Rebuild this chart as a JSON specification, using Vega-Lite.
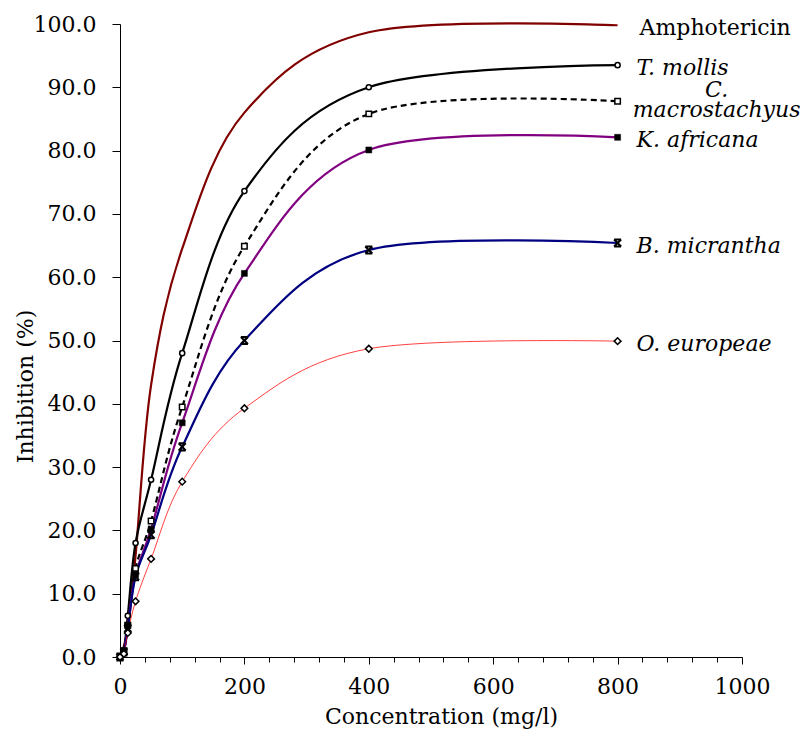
{
  "$schema": "https://vega.github.io/schema/vega-lite/v6.json",
  "autosize": "none",
  "width": 622,
  "height": 633,
  "padding": {"left": 120, "top": 24, "right": 62, "bottom": 74},
  "background": "white",
  "config": {
    "view": {"stroke": null},
    "font": "DejaVu Serif",
    "axis": {"grid": false, "domainColor": "black", "tickColor": "black", "labelColor": "black", "titleColor": "black", "titleFontWeight": "normal", "labelFont": "DejaVu Serif", "titleFont": "DejaVu Serif"}
  },
  "data": {
    "values": [
      {"series": "Amphotericin", "conc": 0, "inhib": 0},
      {"series": "Amphotericin", "conc": 12.5, "inhib": 4.5},
      {"series": "Amphotericin", "conc": 25, "inhib": 16},
      {"series": "Amphotericin", "conc": 50, "inhib": 43},
      {"series": "Amphotericin", "conc": 100, "inhib": 64.5},
      {"series": "Amphotericin", "conc": 200, "inhib": 86},
      {"series": "Amphotericin", "conc": 400, "inhib": 98.7},
      {"series": "Amphotericin", "conc": 800, "inhib": 99.8},
      {"series": "T. mollis", "conc": 0, "inhib": 0},
      {"series": "T. mollis", "conc": 6.25, "inhib": 1},
      {"series": "T. mollis", "conc": 12.5, "inhib": 6.5},
      {"series": "T. mollis", "conc": 25, "inhib": 18},
      {"series": "T. mollis", "conc": 50, "inhib": 28},
      {"series": "T. mollis", "conc": 100, "inhib": 48},
      {"series": "T. mollis", "conc": 200, "inhib": 73.6},
      {"series": "T. mollis", "conc": 400, "inhib": 90},
      {"series": "T. mollis", "conc": 800, "inhib": 93.5},
      {"series": "C. macrostachyus", "conc": 0, "inhib": 0},
      {"series": "C. macrostachyus", "conc": 6.25, "inhib": 1},
      {"series": "C. macrostachyus", "conc": 12.5, "inhib": 5},
      {"series": "C. macrostachyus", "conc": 25, "inhib": 14},
      {"series": "C. macrostachyus", "conc": 50, "inhib": 21.5},
      {"series": "C. macrostachyus", "conc": 100, "inhib": 39.5},
      {"series": "C. macrostachyus", "conc": 200, "inhib": 64.9},
      {"series": "C. macrostachyus", "conc": 400, "inhib": 85.8},
      {"series": "C. macrostachyus", "conc": 800, "inhib": 87.8},
      {"series": "K. africana", "conc": 0, "inhib": 0},
      {"series": "K. africana", "conc": 6.25, "inhib": 0.8},
      {"series": "K. africana", "conc": 12.5, "inhib": 5},
      {"series": "K. africana", "conc": 25, "inhib": 13},
      {"series": "K. africana", "conc": 50, "inhib": 20.2},
      {"series": "K. africana", "conc": 100, "inhib": 37},
      {"series": "K. africana", "conc": 200, "inhib": 60.6},
      {"series": "K. africana", "conc": 400, "inhib": 80.1},
      {"series": "K. africana", "conc": 800, "inhib": 82.1},
      {"series": "B. micrantha", "conc": 0, "inhib": 0},
      {"series": "B. micrantha", "conc": 6.25, "inhib": 0.8},
      {"series": "B. micrantha", "conc": 12.5, "inhib": 4.5},
      {"series": "B. micrantha", "conc": 25, "inhib": 12.7},
      {"series": "B. micrantha", "conc": 50, "inhib": 19.3},
      {"series": "B. micrantha", "conc": 100, "inhib": 33.2},
      {"series": "B. micrantha", "conc": 200, "inhib": 50},
      {"series": "B. micrantha", "conc": 400, "inhib": 64.3},
      {"series": "B. micrantha", "conc": 800, "inhib": 65.4},
      {"series": "O. europeae", "conc": 0, "inhib": 0},
      {"series": "O. europeae", "conc": 6.25, "inhib": 0.5},
      {"series": "O. europeae", "conc": 12.5, "inhib": 3.8},
      {"series": "O. europeae", "conc": 25, "inhib": 8.8},
      {"series": "O. europeae", "conc": 50, "inhib": 15.5},
      {"series": "O. europeae", "conc": 100, "inhib": 27.7},
      {"series": "O. europeae", "conc": 200, "inhib": 39.3},
      {"series": "O. europeae", "conc": 400, "inhib": 48.7},
      {"series": "O. europeae", "conc": 800, "inhib": 49.9}
    ]
  },
  "encoding": {
    "x": {
      "field": "conc", "type": "quantitative",
      "scale": {"domain": [0, 1000], "nice": false, "zero": true},
      "axis": {
        "title": "Concentration (mg/l)",
        "values": [0,40,80,120,160,200,240,280,320,360,400,440,480,520,560,600,640,680,720,760,800,840,880,920,960,1000],
        "format": "d",
        "labelExpr": "datum.value % 200 === 0 ? datum.label : ''",
        "tickSize": {"condition": {"test": "datum.value % 200 === 0", "value": 7}, "value": 5},
        "labelFontSize": 22, "labelPadding": 12, "labelFlush": false, "labelOverlap": false,
        "titleFontSize": 22, "titleX": 321, "titleY": 66, "titleBaseline": "alphabetic", "titleAnchor": null, "titleAlign": "center"
      }
    },
    "y": {
      "field": "inhib", "type": "quantitative",
      "scale": {"domain": [0, 100], "nice": false},
      "axis": {
        "title": "Inhibition (%)",
        "values": [0,10,20,30,40,50,60,70,80,90,100],
        "format": ".1f",
        "tickSize": 8, "labelPadding": 16,
        "labelFontSize": 22, "labelFlush": false, "labelOverlap": false,
        "titleFontSize": 22, "titleAngle": -90, "titleX": -88, "titleY": 362, "titleBaseline": "alphabetic", "titleAlign": "center"
      }
    }
  },
  "layer": [
    {
      "transform": [{"filter": "datum.series === 'Amphotericin'"}],
      "mark": {"type": "line", "interpolate": "cardinal", "color": "#800000", "strokeWidth": 2.2, "clip": false}
    },
    {
      "transform": [{"filter": "datum.series === 'T. mollis'"}],
      "mark": {"type": "line", "interpolate": "cardinal", "color": "#000000", "strokeWidth": 2.2, "clip": false}
    },
    {
      "transform": [{"filter": "datum.series === 'C. macrostachyus'"}],
      "mark": {"type": "line", "interpolate": "cardinal", "color": "#000000", "strokeWidth": 2.2, "strokeDash": [6, 4], "clip": false}
    },
    {
      "transform": [{"filter": "datum.series === 'K. africana'"}],
      "mark": {"type": "line", "interpolate": "cardinal", "color": "#800080", "strokeWidth": 2.2, "clip": false}
    },
    {
      "transform": [{"filter": "datum.series === 'B. micrantha'"}],
      "mark": {"type": "line", "interpolate": "cardinal", "color": "#000080", "strokeWidth": 2.2, "clip": false}
    },
    {
      "transform": [{"filter": "datum.series === 'O. europeae'"}],
      "mark": {"type": "line", "interpolate": "cardinal", "color": "#ff0000", "strokeWidth": 0.75, "clip": false}
    },
    {
      "transform": [{"filter": "datum.series === 'T. mollis'"}],
      "mark": {"type": "point", "shape": "circle", "size": 26, "filled": true, "fill": "white", "stroke": "black", "strokeWidth": 1.5, "opacity": 1}
    },
    {
      "transform": [{"filter": "datum.series === 'C. macrostachyus'"}],
      "mark": {"type": "point", "shape": "square", "size": 30, "filled": true, "fill": "white", "stroke": "black", "strokeWidth": 1.5, "opacity": 1}
    },
    {
      "transform": [{"filter": "datum.series === 'K. africana'"}],
      "mark": {"type": "point", "shape": "square", "size": 36, "filled": true, "fill": "black", "stroke": "black", "strokeWidth": 0.5, "opacity": 1}
    },
    {
      "transform": [{"filter": "datum.series === 'B. micrantha'"}],
      "mark": {"type": "point", "shape": "M-1,-1L1,1M-1,1L1,-1M-1,-1L1,-1M-1,1L1,1", "size": 50, "filled": false, "stroke": "black", "strokeWidth": 2, "opacity": 1}
    },
    {
      "transform": [{"filter": "datum.series === 'O. europeae'"}],
      "mark": {"type": "point", "shape": "diamond", "size": 45, "filled": true, "fill": "white", "stroke": "black", "strokeWidth": 1.5, "opacity": 1}
    },
    {
      "transform": [{"filter": "datum.conc === 800 && datum.series === 'Amphotericin'"}],
      "mark": {"type": "text", "align": "left", "baseline": "alphabetic", "dx": 22, "dy": 10, "fontSize": 22, "font": "DejaVu Serif", "color": "black"},
      "encoding": {"text": {"field": "series"}}
    },
    {
      "transform": [{"filter": "datum.conc === 800 && datum.series !== 'Amphotericin' && datum.series !== 'C. macrostachyus'"}],
      "mark": {"type": "text", "align": "left", "baseline": "alphabetic", "dx": 19, "dy": 10, "fontSize": 22, "fontStyle": "italic", "font": "DejaVu Serif", "color": "black"},
      "encoding": {"text": {"field": "series"}}
    },
    {
      "transform": [{"filter": "datum.conc === 800 && datum.series === 'C. macrostachyus'"}],
      "mark": {"type": "text", "align": "center", "baseline": "alphabetic", "dx": 99, "dy": -4, "lineBreak": " ", "lineHeight": 20, "fontSize": 22, "fontStyle": "italic", "font": "DejaVu Serif", "color": "black"},
      "encoding": {"text": {"field": "series"}}
    }
  ]
}
